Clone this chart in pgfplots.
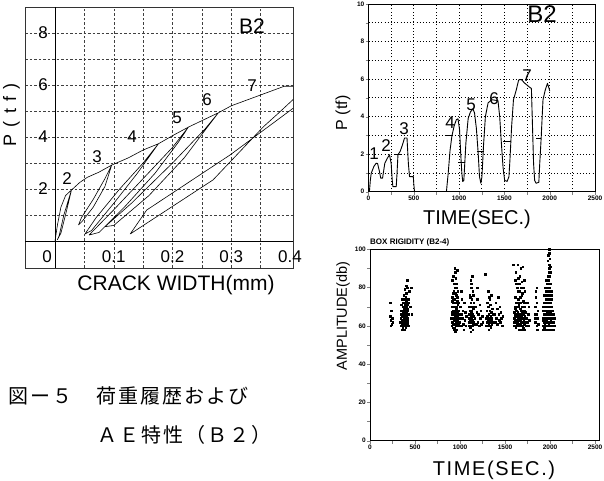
\documentclass[border=0pt]{standalone}
\usepackage{fontspec}
\setmainfont{Liberation Sans}
\newfontfamily\cjk[LetterSpace=10]{Noto Sans CJK JP}
\newfontfamily\spaced[LetterSpace=40]{Liberation Sans}
\newfontfamily\slight[LetterSpace=8]{Liberation Sans}
\usepackage{pgfplots}
\pgfplotsset{compat=1.18}

\begin{document}
\begin{tikzpicture}
\useasboundingbox (0pt,0pt) rectangle (604pt,481pt);

% ---- load vs crack width ----
\begin{axis}[at={(25pt,213pt)}, anchor=south west, scale only axis,
  width=268pt, height=261pt,
  xmin=-0.0511, xmax=0.4051, ymin=-1.038, ymax=9,
  xtick={0.05,0.1,0.15,0.2,0.25,0.3,0.35}, ytick={1,2,3,4,5,6,7,8},
  xticklabels={}, yticklabels={}, major tick length=0pt,
  grid=major,
  major grid style={black!75, line width=0.45pt, dash pattern=on 2.5pt off 2pt},
  extra x ticks={0}, extra y ticks={0},
  extra x tick labels={}, extra y tick labels={},
  extra tick style={grid=major, major grid style={black, line width=1pt, solid}},
  axis line style={black!80, line width=0.5pt}]
\addplot[black, line width=0.6pt, line join=round] coordinates {
 (0,0) (0.004,0.6) (0.010,1.3) (0.018,1.75) (0.028,1.96)
 (0.015,1.0) (0.007,0.2) (0.004,0.05)
 (0.010,0.3) (0.020,1.2) (0.028,1.96)
 (0.042,2.25) (0.055,2.45) (0.075,2.65) (0.0965,2.92)
 (0.085,2.4) (0.065,1.6) (0.045,0.9) (0.040,0.62)
 (0.046,0.75) (0.065,1.3) (0.085,2.1) (0.0965,2.92)
 (0.125,3.2) (0.150,3.5) (0.176,3.74)
 (0.150,3.0) (0.110,2.0) (0.070,0.9) (0.051,0.27)
 (0.062,0.40) (0.100,1.45) (0.140,2.6) (0.176,3.74)
 (0.200,4.05) (0.227,4.38)
 (0.200,3.6) (0.150,2.4) (0.100,1.2) (0.058,0.23)
 (0.075,0.33) (0.120,1.35) (0.170,2.6) (0.210,3.8) (0.227,4.38)
 (0.252,4.65) (0.278,4.93)
 (0.255,4.30) (0.200,3.0) (0.130,1.45) (0.085,0.55)
 (0.100,0.60) (0.160,1.75) (0.220,3.2) (0.255,4.25) (0.278,4.93)
 (0.300,5.2) (0.330,5.45) (0.360,5.70) (0.390,5.95) (0.42,5.95)
};
\addplot[black, line width=0.6pt, line join=round] coordinates {
 (0.42,5.75) (0.380,4.91) (0.355,4.40) (0.269,2.35) (0.128,0.27)
 (0.156,1.19) (0.298,3.31) (0.42,5.35)
};
\end{axis}

\begin{scope}[font=\fontsize{17}{17}\selectfont, inner sep=0pt]
\node at (43pt,448pt) {8};
\node at (43pt,396pt) {6};
\node at (43pt,344pt) {4};
\node at (43pt,292pt) {2};
\node at (47pt,224pt) {0};
\node at (113.7pt,224pt) {0.1};
\node at (172.5pt,224pt) {0.2};
\node at (231.2pt,224pt) {0.3};
\node at (290pt,224pt) {0.4};
\node at (67pt,302pt) {2};
\node at (97pt,324pt) {3};
\node at (132pt,344pt) {4};
\node at (177pt,363pt) {5};
\node at (207pt,381pt) {6};
\node at (252pt,395pt) {7};
\end{scope}
\node[inner sep=0pt, font=\fontsize{21}{21}\selectfont] at (252pt,455pt) {B2};
\node[inner sep=0pt, font=\fontsize{21}{21}\selectfont] at (176pt,196pt) {CRACK WIDTH(mm)};
\node[inner sep=0pt, rotate=90, font=\spaced\fontsize{18}{18}\selectfont] at (11.5pt,366pt) {P(tf)};

% ---- load vs time ----
\begin{axis}[at={(368.5pt,289.3pt)}, anchor=south west, scale only axis,
  width=226.5pt, height=187.7pt,
  xmin=0, xmax=2500, ymin=0, ymax=10,
  xtick={0,500,1000,1500,2000,2500}, ytick={0,2,4,6,8,10},
  minor x tick num=1, minor y tick num=1,
  grid=both,
  grid style={black, line width=0.8pt, dash pattern=on 0.8pt off 2.4pt},
  tick align=outside, tick pos=left,
  major tick length=3pt, minor tick length=3pt,
  axis line style={line width=0.9pt},
  ticklabel style={font=\bfseries\fontsize{6.5}{7}\selectfont, inner sep=1pt},
  /pgf/number format/assume math mode=true,
  /pgf/number format/set thousands separator={},
  unbounded coords=jump]
\addplot[black, line width=0.9pt, line join=round] coordinates {
 (10,0) (20,0.6) (30,0.98) (60,1.35) (85,1.52) (100,1.50) (120,1.1) (135,0.72)
 (155,0.72) (170,1.2) (180,1.52) (210,1.8) (232,1.97) (250,1.5) (262,0.6) (269,0.27)
 (306,0.27) (315,1.0) (325,1.97) (350,2.15) (375,2.5) (398,2.86) (425,2.86)
 (440,1.5) (453,0.8) (495,0.8) (500,0.4) (508,0)
 (860,0) (880,1.0) (900,2.2) (920,2.95) (945,3.5) (970,3.84) (988,3.88)
 (1005,3.3) (1018,2.0) (1030,1.0) (1040,0.54) (1052,0.6) (1075,2.6) (1100,3.9)
 (1125,4.25) (1153,4.41) (1170,4.2) (1190,3.4) (1210,2.1) (1225,0.8) (1240,0.45)
 (1252,0.8) (1270,2.5) (1290,4.0) (1320,4.73) (1360,4.90) (1429,4.85)
 (1448,4.0) (1465,2.7) (1485,1.3) (1503,0.6) (1530,0.55) (1550,0.8) (1560,1.6)
 (1580,3.5) (1600,4.9) (1630,5.4) (1657,5.95) (1687,5.98) (1720,5.8)
 (1779,5.56) (1798,5.5) (1810,3.5) (1822,1.5) (1834,0.6) (1850,0.45) (1880,0.5)
 (1890,1.5) (1905,2.8) (1926,4.9) (1950,5.4) (1975,5.77) (1990,5.55) (2000,5.36)
};
\addplot[black, line width=0.9pt] coordinates {
 (287,1.97) (361,1.97) (nan,nan)
 (840,3.0) (925,3.0) (nan,nan)
 (990,1.57) (1060,1.57) (nan,nan)
 (1195,2.14) (1280,2.14) (nan,nan)
 (1485,2.68) (1575,2.68) (nan,nan)
 (1850,2.82) (1905,2.82)
};
\end{axis}

\begin{scope}[font=\fontsize{17}{17}\selectfont, inner sep=0pt]
\node at (374pt,327pt) {1};
\node at (386pt,335pt) {2};
\node at (404pt,352pt) {3};
\node at (450pt,358pt) {4};
\node at (471pt,376pt) {5};
\node at (494pt,382pt) {6};
\node at (527pt,405pt) {7};
\end{scope}
\node[inner sep=0pt, font=\fontsize{24}{24}\selectfont] at (542pt,467pt) {B2};
\node[inner sep=0pt, font=\fontsize{20}{20}\selectfont] at (477pt,262pt) {TIME(SEC.)};
\node[inner sep=0pt, rotate=90, font=\fontsize{16}{16}\selectfont] at (343pt,368pt) {P (tf)};

% ---- AE amplitude vs time ----
\begin{axis}[at={(370pt,40.3pt)}, anchor=south west, scale only axis,
  width=229.5pt, height=191.4pt,
  xmin=0, xmax=2550, ymin=0, ymax=100,
  xtick={0,500,1000,1500,2000,2500}, ytick={0,20,40,60,80,100},
  minor x tick num=1, minor y tick num=1,
  tick align=outside, tick pos=left,
  major tick length=3pt, minor tick length=3pt,
  axis line style={line width=0.9pt},
  ticklabel style={font=\bfseries\fontsize{6.5}{7}\selectfont, inner sep=1pt},
  /pgf/number format/assume math mode=true,
  /pgf/number format/set thousands separator={}]
\addplot[only marks, mark=square*, mark size=0.8pt, black] coordinates {
 (222,72) (226,65) (232,63) (236,68) (241,61) (247,64) (252,62) (229,60)
 (338,62) (341,66) (344,60) (347,71) (350,63) (352,58) (355,68) (357,61) (359,74)
 (361,65) (363,59) (365,70) (367,62) (369,67) (371,60) (373,76) (375,64) (377,69)
 (379,58) (381,72) (383,62) (385,66) (387,79) (389,61) (391,68) (393,63) (395,73)
 (397,59) (399,65) (401,70) (403,62) (405,77) (407,60) (409,67) (411,64) (413,72)
 (415,61) (417,69) (419,63) (421,66) (423,74) (425,60) (380,64) (384,70) (390,65)
 (394,60) (398,75) (402,67) (406,63) (410,80) (378,67) (386,62) (392,71) (396,66)
 (404,73) (412,69) (416,84) (405,81) (422,66) (430,72) (437,78) (446,70) (460,80)
 (462,66)
 (340,64) (346,68) (354,65) (360,62) (366,66) (372,63) (376,61) (382,68) (388,66)
 (394,64) (400,63) (408,65) (414,62) (420,68) (370,72) (389,74) (401,77) (418,71)
 (905,64) (908,60) (910,70) (912,66) (914,62) (916,75) (918,59) (920,68) (922,64)
 (924,72) (926,61) (928,78) (930,66) (932,63) (934,70) (936,59) (938,74) (940,65)
 (942,61) (944,80) (946,68) (948,63) (950,72) (952,60) (954,66) (956,76) (958,62)
 (960,69) (962,64) (964,58) (966,73) (968,67) (970,61) (972,65) (974,71) (976,63)
 (978,60) (980,68) (982,62) (985,66) (988,60) (915,84) (925,86) (935,82) (945,88)
 (939,90) (952,85) (960,82) (968,89) (975,78) (930,58) (947,57) (958,58) (920,77)
 (941,70) (955,64) (963,70) (972,75) (983,72) (990,64)
 (907,67) (913,64) (919,62) (923,66) (929,70) (933,61) (937,67) (943,63) (949,66)
 (953,69) (957,61) (961,66) (967,63) (971,68) (977,66) (981,61) (911,73) (927,74)
 (949,77) (965,80)
 (998,62) (1005,70) (1010,66) (1015,60) (1020,74) (1025,64) (1032,68) (1038,61)
 (1045,72) (1050,63) (1056,67) (1062,60) (1068,65) (1012,78) (1040,58)
 (1095,64) (1098,60) (1100,70) (1103,66) (1105,62) (1108,76) (1110,59) (1112,68)
 (1115,63) (1117,72) (1120,65) (1122,60) (1124,80) (1126,67) (1128,62) (1130,74)
 (1132,64) (1134,70) (1136,60) (1138,66) (1140,78) (1142,63) (1144,69) (1146,61)
 (1148,65) (1150,72) (1118,84) (1135,86) (1127,82) (1110,75) (1141,58) (1121,57)
 (1131,68) (1113,64) (1145,76) (1152,62)
 (1165,64) (1172,70) (1178,61) (1185,67) (1192,74) (1198,62) (1205,66) (1210,60)
 (1217,71) (1224,64) (1230,68) (1238,61) (1245,65) (1252,62) (1278,87) (1190,80)
 (1290,64) (1293,60) (1296,68) (1299,62) (1302,72) (1305,65) (1308,60) (1311,70)
 (1314,63) (1317,66) (1320,61) (1323,75) (1326,64) (1329,68) (1332,62) (1335,60)
 (1338,71) (1341,65) (1344,63) (1347,67) (1350,61) (1353,64) (1356,69) (1359,62)
 (1362,66) (1310,78) (1330,74) (1345,76) (1318,58) (1340,59)
 (1385,66) (1392,62) (1398,72) (1403,64) (1410,69) (1415,61) (1422,75) (1428,66)
 (1433,63) (1440,70) (1446,62) (1452,67) (1460,64) (1468,60) (1475,65)
 (1600,64) (1603,60) (1606,70) (1609,66) (1612,62) (1615,75) (1618,59) (1621,68)
 (1624,63) (1627,72) (1630,65) (1633,60) (1636,80) (1639,67) (1642,62) (1645,74)
 (1648,64) (1651,70) (1654,60) (1657,66) (1660,78) (1663,63) (1666,69) (1669,61)
 (1672,65) (1675,72) (1678,62) (1681,68) (1684,60) (1687,76) (1690,64) (1693,70)
 (1696,62) (1699,66) (1702,59) (1705,73) (1708,64) (1711,68) (1714,61) (1717,65)
 (1720,70) (1725,62) (1730,67) (1735,60) (1740,64) (1745,72) (1750,62) (1755,66)
 (1760,60) (1765,70) (1770,63)
 (1589,92) (1610,84) (1620,88) (1640,92) (1648,85) (1655,82) (1665,86) (1675,90)
 (1685,83) (1695,91) (1700,80) (1710,84) (1720,78) (1625,82) (1645,78) (1668,75)
 (1680,80) (1690,77)
 (1605,62) (1615,65) (1625,60) (1635,63) (1650,58) (1660,61) (1670,58) (1680,64)
 (1692,58) (1700,62) (1712,58) (1722,64) (1632,68) (1652,71) (1672,69) (1688,66)
 (1704,68) (1716,72)
 (1602,67) (1608,63) (1614,69) (1620,62) (1626,66) (1634,70) (1638,61) (1644,65)
 (1650,63) (1656,72) (1662,66) (1668,63) (1674,60) (1677,68) (1683,65) (1689,62)
 (1694,67) (1698,60) (1706,63) (1710,61) (1715,67) (1719,62)
 (1830,64) (1834,70) (1838,62) (1842,75) (1846,66) (1850,60) (1854,72) (1858,64)
 (1862,68) (1866,61) (1840,78) (1852,80) (1860,58) (1836,66)
 (1920,64) (1923,60) (1926,70) (1929,66) (1932,62) (1935,76) (1938,59) (1941,68)
 (1944,64) (1947,72) (1950,62) (1953,80) (1956,66) (1959,60) (1962,74) (1965,64)
 (1968,70) (1971,62) (1974,84) (1977,66) (1980,60) (1983,78) (1986,64) (1989,90)
 (1992,68) (1995,62) (1998,86) (2001,72) (2004,64) (2007,60) (2010,76) (2013,66)
 (2016,62) (2019,70) (2022,64) (2026,60) (2030,68) (2035,62) (2040,66) (2045,60)
 (2050,64)
 (1975,94) (1982,97) (1988,100) (1993,98) (1996,95) (1990,92) (1985,88) (1979,86)
 (1999,91) (2003,88) (1970,82) (1960,84) (1955,78) (1965,76) (2008,82) (2012,78)
 (2018,74) (1945,80) (1940,76)
 (1925,58) (1935,62) (1945,58) (1955,64) (1965,58) (1975,62) (1985,58) (1995,66)
 (2005,58) (2015,60) (2025,64) (2035,58) (1930,72) (1950,70) (1960,68) (1970,72)
 (1980,70) (1990,74) (2000,68) (2010,70) (1978,76) (1988,80) (1998,78) (1972,66)
 (1982,64) (1992,60) (2002,62)
 (1921,68) (1927,63) (1931,66) (1937,70) (1943,61) (1949,66) (1952,74) (1958,63)
 (1963,67) (1967,62) (1973,70) (1976,64) (1981,67) (1984,72) (1987,61) (1991,66)
 (1994,70) (1997,64) (2000,60) (2003,67) (2006,70) (2009,63) (2014,68) (2020,60)
 (2024,66) (2032,64) (1987,84) (1991,88) (1994,82) (1984,92) (1997,98) (1992,100)
 (1981,80) (2006,76)
};
\end{axis}

\node[anchor=west, inner sep=0pt, font=\bfseries\fontsize{8}{8}\selectfont] at (370pt,239pt) {BOX RIGIDITY (B2-4)};
\node[inner sep=0pt, font=\slight\fontsize{20}{20}\selectfont] at (494pt,11pt) {TIME(SEC.)};
\node[inner sep=0pt, rotate=90, font=\fontsize{14.5}{14.5}\selectfont] at (343pt,165pt) {AMPLITUDE(db)};

% ---- caption ----
\node[anchor=west, inner sep=0pt, font=\cjk\fontsize{20}{20}\selectfont] at (8pt,85pt) {図ー５　荷重履歴および};
\node[anchor=west, inner sep=0pt, font=\cjk\fontsize{20}{20}\selectfont] at (97pt,46pt) {ＡＥ特性（Ｂ２）};
\end{tikzpicture}
\end{document}
